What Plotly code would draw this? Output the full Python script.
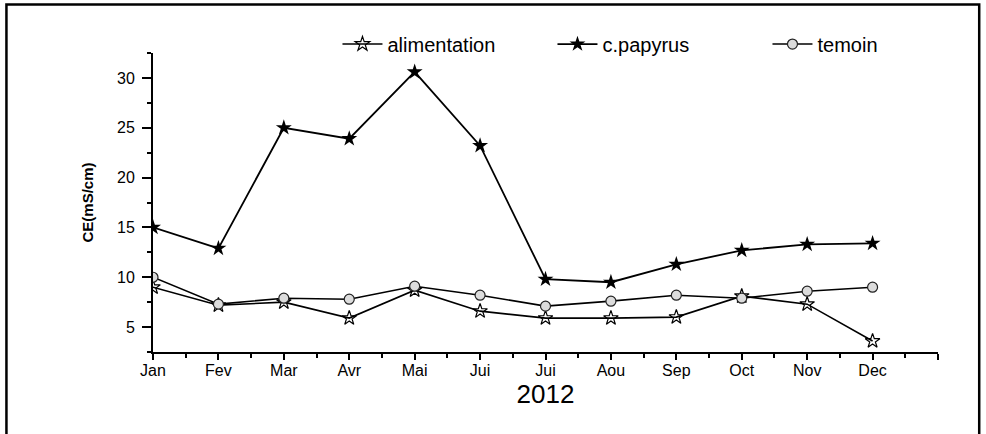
import plotly.graph_objects as go

# Month labels (Jui appears twice: June and July)
months = ["Jan", "Fev", "Mar", "Avr", "Mai", "Jui", "Jui", "Aou", "Sep", "Oct", "Nov", "Dec"]
x_pos = list(range(len(months)))

# Electrical conductivity, CE (mS/cm), 2012
alimentation = [9.0, 7.2, 7.5, 5.9, 8.7, 6.6, 5.9, 5.9, 6.0, 8.1, 7.3, 3.6]
c_papyrus = [15.0, 12.9, 25.0, 23.9, 30.6, 23.2, 9.8, 9.5, 11.3, 12.7, 13.3, 13.4]
temoin = [10.0, 7.3, 7.9, 7.8, 9.1, 8.2, 7.1, 7.6, 8.2, 7.9, 8.6, 9.0]

y_ticks = [5, 10, 15, 20, 25, 30]

FONT = "Liberation Sans, Arial, sans-serif"

fig = go.Figure()

fig.add_trace(go.Scatter(
    x=x_pos, y=alimentation, name="alimentation", mode="lines+markers",
    line=dict(color="black", width=1.6),
    marker=dict(symbol="star-open", size=11, color="black", line=dict(width=1.2, color="black")),
))
fig.add_trace(go.Scatter(
    x=x_pos, y=c_papyrus, name="c.papyrus", mode="lines+markers",
    line=dict(color="black", width=1.8),
    marker=dict(symbol="star", size=12, color="black"),
))
fig.add_trace(go.Scatter(
    x=x_pos, y=temoin, name="temoin", mode="lines+markers",
    line=dict(color="black", width=1.6),
    marker=dict(symbol="circle", size=10, color="#dcdcdc", line=dict(width=1.2, color="#222222")),
))

# Frame around the whole figure (open at the bottom edge of the page)
fig.add_shape(type="rect", xref="paper", yref="paper",
              x0=-0.1867, x1=1.0525, y0=-0.4, y1=1.1619,
              line=dict(color="black", width=2.5), fillcolor="rgba(0,0,0,0)", layer="above")

fig.update_layout(
    width=986, height=434,
    margin=dict(l=153, r=48, t=53, b=82, autoexpand=False),
    paper_bgcolor="white", plot_bgcolor="white",
    font=dict(family=FONT, color="black"),
    showlegend=True,
    legend=dict(
        orientation="h", x=0.235, xanchor="left", y=1.03, yanchor="middle",
        font=dict(size=20, family=FONT, color="black"),
        bgcolor="rgba(0,0,0,0)", entrywidth=160, entrywidthmode="pixels",
        itemwidth=40, tracegroupgap=0,
    ),
    xaxis=dict(
        range=[0, 12], tickmode="array", tickvals=x_pos + [12], ticktext=months + [""],
        showline=True, linecolor="black", linewidth=2, mirror=False,
        ticks="outside", ticklen=6, tickwidth=1.5, tickcolor="black",
        tickfont=dict(size=16, family=FONT, color="black"),
        ticklabelstandoff=-3,
        minor=dict(dtick=0.5, tick0=0, ticks="outside", ticklen=4, tickwidth=1.5, tickcolor="black"),
        showgrid=False, zeroline=False,
        title=dict(text="2012", font=dict(size=26, family=FONT, color="black"), standoff=4),
    ),
    yaxis=dict(
        range=[2.5, 32.5], tickmode="array", tickvals=y_ticks,
        showline=True, linecolor="black", linewidth=2, mirror=False,
        ticks="outside", ticklen=9, tickwidth=1.5, tickcolor="black",
        tickfont=dict(size=16, family=FONT, color="black"),
        ticklabelstandoff=4,
        minor=dict(dtick=2.5, tick0=2.5, ticks="outside", ticklen=4, tickwidth=1.5, tickcolor="black"),
        showgrid=False, zeroline=False,
        title=dict(text="<b>CE(mS/cm)</b>", font=dict(size=15, family=FONT, color="black"), standoff=20),
    ),
)

fig.write_html("out.html")
